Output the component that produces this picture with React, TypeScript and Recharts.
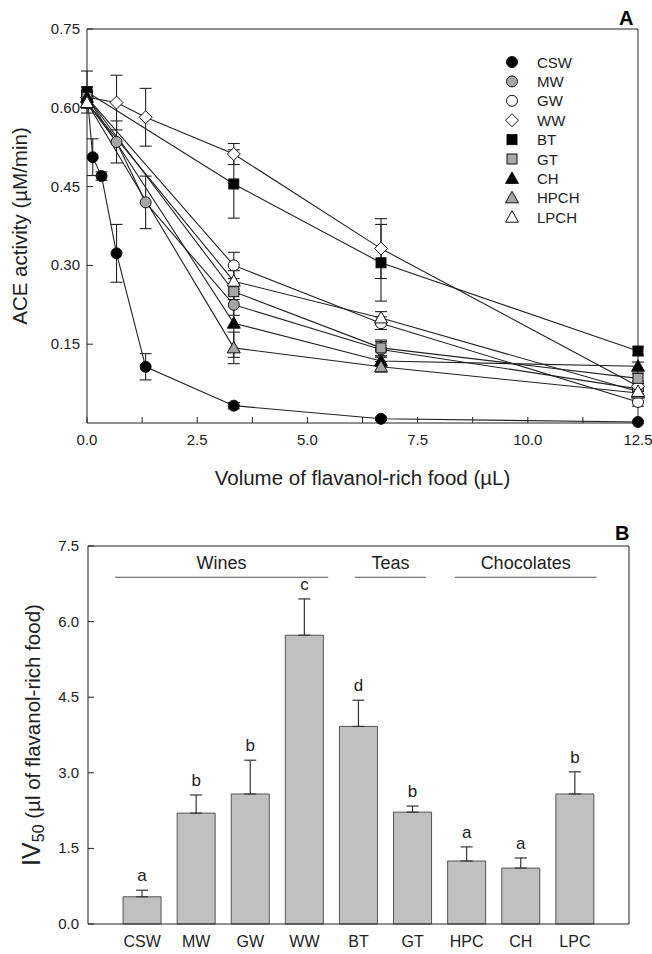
import React from 'react';
import {
  LineChart,
  Line,
  XAxis,
  YAxis,
  ErrorBar,
  Legend,
  ReferenceLine,
  ComposedChart,
  Bar,
  Scatter,
  Label,
} from 'recharts';

const FONT = '"Liberation Sans", Arial, sans-serif';

// ---- Panel A: ACE activity vs volume of flavanol-rich food ----
const cswDose = [0, 0.13, 0.33, 0.67, 1.33, 3.33, 6.67, 12.5];
const wineDose = [0, 0.67, 1.33, 3.33, 6.67, 12.5];
const dose = [0, 3.33, 6.67, 12.5];

const cswMean = [0.63, 0.506, 0.47, 0.323, 0.107, 0.033, 0.008, 0.002];
const cswSem = [0.01, 0.035, 0.008, 0.055, 0.025, 0.006, 0.003, 0.002];
const mwMean = [0.61, 0.535, 0.42, 0.225, 0.14, 0.065];
const mwSem = [0.01, 0.04, 0.05, 0.02, 0.015, 0.01];
const wwMean = [0.62, 0.61, 0.582, 0.512, 0.332, 0.07];
const wwSem = [0.02, 0.052, 0.055, 0.02, 0.057, 0.01];
const gwMean = [0.62, 0.3, 0.19, 0.04];
const gwSem = [0.01, 0.025, 0.012, 0.008];
const btMean = [0.63, 0.455, 0.305, 0.137];
const btSem = [0.04, 0.065, 0.073, 0.008];
const gtMean = [0.62, 0.25, 0.143, 0.085];
const gtSem = [0.01, 0.015, 0.015, 0.01];
const chMean = [0.62, 0.19, 0.118, 0.108];
const chSem = [0.01, 0.065, 0.01, 0.008];
const hpchMean = [0.61, 0.143, 0.107, 0.057];
const hpchSem = [0.01, 0.03, 0.01, 0.005];
const lpchMean = [0.61, 0.27, 0.2, 0.06];
const lpchSem = [0.01, 0.02, 0.012, 0.008];

const xTicksA = [0, 1.25, 2.5, 3.75, 5, 6.25, 7.5, 8.75, 10, 11.25, 12.5];
const yTicksA = [0.15, 0.3, 0.45, 0.6, 0.75];

const seriesA = [
  { name: 'CSW', x: cswDose, y: cswMean, e: cswSem },
  { name: 'MW', x: wineDose, y: mwMean, e: mwSem },
  { name: 'GW', x: dose, y: gwMean, e: gwSem },
  { name: 'WW', x: wineDose, y: wwMean, e: wwSem },
  { name: 'BT', x: dose, y: btMean, e: btSem },
  { name: 'GT', x: dose, y: gtMean, e: gtSem },
  { name: 'CH', x: dose, y: chMean, e: chSem },
  { name: 'HPCH', x: dose, y: hpchMean, e: hpchSem },
  { name: 'LPCH', x: dose, y: lpchMean, e: lpchSem },
];

const GRAY = '#a6a6a6';
const markerStyle: Record<string, { shape: string; fill: string }> = {
  CSW: { shape: 'circle', fill: '#000' },
  MW: { shape: 'circle', fill: GRAY },
  GW: { shape: 'circle', fill: '#fff' },
  WW: { shape: 'diamond', fill: '#fff' },
  BT: { shape: 'square', fill: '#000' },
  GT: { shape: 'square', fill: GRAY },
  CH: { shape: 'triangle', fill: '#000' },
  HPCH: { shape: 'triangle', fill: GRAY },
  LPCH: { shape: 'triangle', fill: '#fff' },
};

// ---- Panel B: IV50 per food ----
const foods = ['CSW', 'MW', 'GW', 'WW', 'BT', 'GT', 'HPC', 'CH', 'LPC'];
const iv50 = [0.54, 2.2, 2.58, 5.73, 3.92, 2.22, 1.25, 1.11, 2.58];
const iv50Sem = [0.13, 0.36, 0.67, 0.72, 0.52, 0.12, 0.28, 0.2, 0.44];
const letters = ['a', 'b', 'b', 'c', 'd', 'b', 'a', 'a', 'b'];
const yTicksB = [0, 1.5, 3, 4.5, 6, 7.5];

const groupNames = ['Wines', 'Teas', 'Chocolates'];
const groupFrom = [0.5, 4.93, 6.78];
const groupTo = [4.44, 6.25, 9.4];
const groupY = 6.88;

const barData = foods.map((f, i) => ({
  pos: i + 1,
  name: f,
  v: iv50[i],
  err: [0, iv50Sem[i]],
  top: iv50[i] + iv50Sem[i],
  letter: letters[i],
}));

function Marker({ shape, fill, cx, cy }: { shape: string; fill: string; cx: number; cy: number }) {
  const stroke = '#111';
  if (shape === 'circle') return <circle cx={cx} cy={cy} r={5.5} fill={fill} stroke={stroke} strokeWidth={1} />;
  if (shape === 'square')
    return <rect x={cx - 5} y={cy - 5} width={10} height={10} fill={fill} stroke={stroke} strokeWidth={1} />;
  if (shape === 'diamond')
    return (
      <polygon
        points={`${cx},${cy - 6.5} ${cx + 6.5},${cy} ${cx},${cy + 6.5} ${cx - 6.5},${cy}`}
        fill={fill}
        stroke={stroke}
        strokeWidth={1}
      />
    );
  return (
    <polygon
      points={`${cx},${cy - 6.5} ${cx + 6.5},${cy + 5} ${cx - 6.5},${cy + 5}`}
      fill={fill}
      stroke={stroke}
      strokeWidth={1}
    />
  );
}

const isMajor = (v: number) => Math.abs(v / 2.5 - Math.round(v / 2.5)) < 1e-6;

function XTickA(props: any) {
  const { x, y, payload } = props;
  return (
    <g>
      <line x1={x} x2={x} y1={y} y2={y - 6} stroke="#222" />
      {isMajor(payload.value) && (
        <text x={x} y={y + 22} textAnchor="middle" fontSize={15} fill="#222" fontFamily={FONT}>
          {payload.value.toFixed(1)}
        </text>
      )}
    </g>
  );
}

function YTickA(props: any) {
  const { x, y, payload } = props;
  return (
    <g>
      <line x1={x} x2={x + 6} y1={y} y2={y} stroke="#222" />
      <text x={x - 7} y={y + 5} textAnchor="end" fontSize={15} fill="#222" fontFamily={FONT}>
        {payload.value.toFixed(2)}
      </text>
    </g>
  );
}

function YTickB(props: any) {
  const { x, y, payload } = props;
  return (
    <g>
      <line x1={x} x2={x + 6} y1={y} y2={y} stroke="#222" />
      <text x={x - 9} y={y + 5} textAnchor="end" fontSize={15} fill="#222" fontFamily={FONT}>
        {payload.value.toFixed(1)}
      </text>
    </g>
  );
}

function LegendA() {
  return (
    <svg width={110} height={180}>
      {seriesA.map((s, i) => {
        const cy = 10 + i * 19.4;
        return (
          <g key={s.name}>
            <Marker shape={markerStyle[s.name].shape} fill={markerStyle[s.name].fill} cx={12} cy={cy} />
            <text x={37} y={cy + 5.5} fontSize={15} fill="#222" fontFamily={FONT}>
              {s.name}
            </text>
          </g>
        );
      })}
    </svg>
  );
}

function PanelA() {
  return (
    <LineChart width={652} height={500} margin={{ top: 29, right: 14, bottom: 15, left: 12 }}>
      <XAxis
        type="number"
        dataKey="x"
        domain={[0, 12.5]}
        ticks={xTicksA}
        interval={0}
        tick={<XTickA />}
        tickLine={false}
        tickSize={0}
        tickMargin={0}
        height={62}
        stroke="#222"
        allowDuplicatedCategory={false}
      >
        <Label
          value="Volume of flavanol-rich food (µL)"
          position="insideBottom"
          offset={0}
          style={{ fontSize: 20.5, fill: '#222', fontFamily: FONT }}
        />
      </XAxis>
      <YAxis
        type="number"
        domain={[0, 0.75]}
        ticks={yTicksA}
        interval={0}
        tick={<YTickA />}
        tickLine={false}
        tickSize={0}
        tickMargin={0}
        width={75}
        stroke="#222"
      >
        <Label
          value="ACE activity (µM/min)"
          angle={-90}
          position="insideLeft"
          offset={8}
          style={{ fontSize: 20.5, fill: '#222', fontFamily: FONT, textAnchor: 'middle' }}
        />
      </YAxis>
      <ReferenceLine y={0.75} stroke="#222" />
      <ReferenceLine x={12.5} stroke="#222" />
      {seriesA.map((s) => {
        const st = markerStyle[s.name];
        const data = s.x.map((x, i) => ({ x, y: s.y[i], e: s.e[i] }));
        return (
          <Line
            key={s.name}
            name={s.name}
            data={data}
            dataKey="y"
            stroke="#222"
            strokeWidth={1.1}
            isAnimationActive={false}
            dot={(p: any) => (
              <Marker key={`${s.name}-${p.index}`} shape={st.shape} fill={st.fill} cx={p.cx} cy={p.cy} />
            )}
            activeDot={false}
          >
            <ErrorBar dataKey="e" direction="y" width={6} stroke="#222" strokeWidth={1.1} />
          </Line>
        );
      })}
      <Legend
        layout="vertical"
        align="center"
        verticalAlign="middle"
        wrapperStyle={{ left: 500, top: 52, width: 110, height: 180 }}
        content={() => <LegendA />}
      />
    </LineChart>
  );
}

function IvLabel(props: any) {
  const vb = props.viewBox || { x: 13, y: 46, width: 75, height: 378 };
  const cx = vb.x + 20;
  const cy = vb.y + vb.height / 2;
  return (
    <text
      x={cx}
      y={cy}
      dy="0.36em"
      transform={`rotate(-90, ${cx}, ${cy})`}
      textAnchor="middle"
      fill="#222"
      fontFamily={FONT}
      fontSize={20.5}
    >
      <tspan fontSize={25}>IV</tspan>
      <tspan fontSize={16} dy={4}>
        50
      </tspan>
      <tspan dy={-4}> (µl of flavanol-rich food)</tspan>
    </text>
  );
}

function PanelB() {
  return (
    <ComposedChart width={652} height={454} data={barData} margin={{ top: 46, right: 23, bottom: 5, left: 13 }}>
      <XAxis
        type="number"
        dataKey="pos"
        domain={[0, 10]}
        ticks={[1, 2, 3, 4, 5, 6, 7, 8, 9]}
        interval={0}
        tickFormatter={(v: number) => foods[v - 1]}
        tickLine={false}
        tickSize={6}
        tickMargin={6}
        height={25}
        stroke="#222"
        tick={{ fontSize: 16, fill: '#222', fontFamily: FONT }}
      />
      <YAxis
        type="number"
        domain={[0, 7.5]}
        ticks={yTicksB}
        interval={0}
        tick={<YTickB />}
        tickLine={false}
        tickSize={0}
        tickMargin={0}
        width={75}
        stroke="#222"
      >
        <Label content={<IvLabel />} />
      </YAxis>
      <ReferenceLine y={7.5} stroke="#222" />
      <ReferenceLine x={10} stroke="#222" />
      {groupNames.map((g, i) => (
        <ReferenceLine
          key={g}
          segment={[
            { x: groupFrom[i], y: groupY },
            { x: groupTo[i], y: groupY },
          ]}
          stroke="#555"
          strokeWidth={1.2}
          label={{ value: g, position: 'top', offset: 8, fontSize: 18, fill: '#222', fontFamily: FONT }}
        />
      ))}
      <Bar dataKey="v" barSize={38} fill="#c0c0c0" stroke="#555" strokeWidth={1} isAnimationActive={false}>
        <ErrorBar dataKey="err" direction="y" width={6} stroke="#333" strokeWidth={1.2} />
      </Bar>
      <Scatter
        dataKey="top"
        isAnimationActive={false}
        shape={(p: any) => (
          <text x={p.cx} y={p.cy - 9} textAnchor="middle" fontSize={17} fill="#222" fontFamily={FONT}>
            {p.payload.letter}
          </text>
        )}
      />
    </ComposedChart>
  );
}

export default function App() {
  return (
    <div
      style={{
        position: 'absolute',
        left: 0,
        top: 0,
        width: 652,
        height: 954,
        background: '#fff',
        fontFamily: FONT,
      }}
    >
      <div style={{ position: 'absolute', left: 0, top: 0 }}>
        <PanelA />
      </div>
      <div style={{ position: 'absolute', left: 0, top: 500 }}>
        <PanelB />
      </div>
      <div style={{ position: 'absolute', left: 619, top: 8, fontSize: 20, fontWeight: 'bold', lineHeight: 1 }}>A</div>
      <div style={{ position: 'absolute', left: 615, top: 523, fontSize: 20, fontWeight: 'bold', lineHeight: 1 }}>B</div>
    </div>
  );
}
